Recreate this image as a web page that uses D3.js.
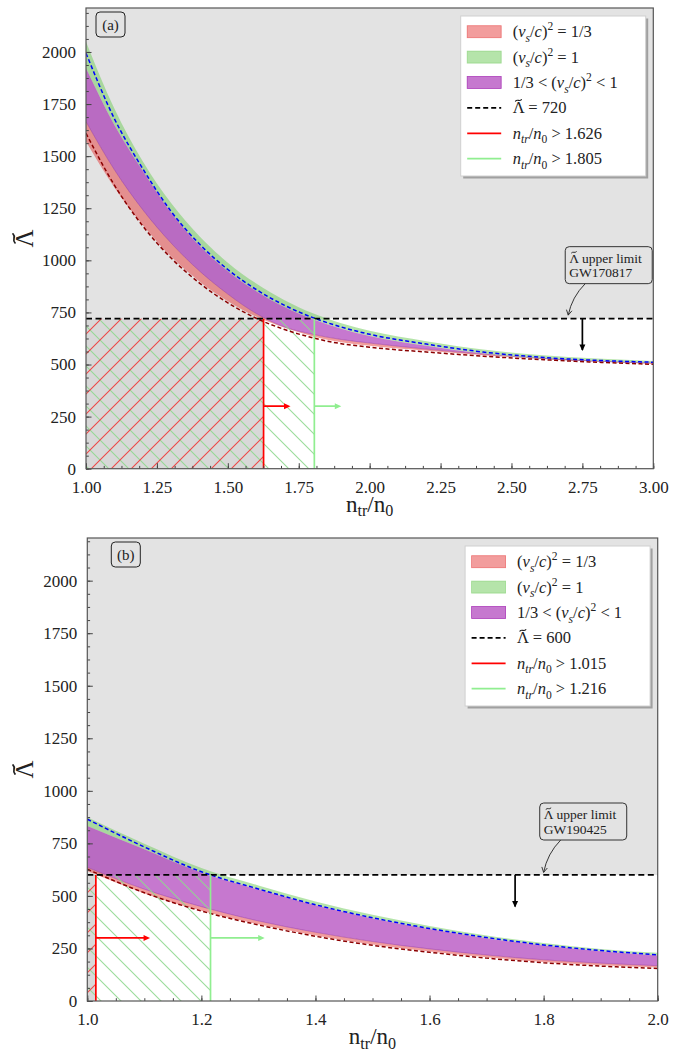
<!DOCTYPE html>
<html>
<head>
<meta charset="utf-8">
<title>Tidal deformability vs transition density</title>
<script src="https://cdn.jsdelivr.net/npm/d3@7"></script>
<style>
  body { margin: 0; background: #fff; }
  text { font-family: "Liberation Serif", "DejaVu Serif", serif; fill: #222; }
</style>
</head>
<body>
<script>
// ---------- panel (a): GW170817 ----------
var nA        = [1.0, 1.1, 1.2, 1.3, 1.4, 1.5, 1.6, 1.7, 1.8, 1.9, 2.0, 2.2, 2.4, 2.6, 2.8, 3.0];
var greenTopA = [2049, 1729, 1476, 1275, 1116, 989, 889, 809, 746, 698, 662, 612, 572, 546, 529, 517];
var blueA     = [1994, 1680, 1440, 1235, 1078, 956, 860, 784, 725, 680, 645, 598, 560, 535, 520, 511];
var purpTopA  = [1922, 1650, 1430, 1228, 1070, 948, 852, 776, 717, 672, 637, 590, 553, 529, 515, 507];
var purpBotA  = [1666, 1435, 1243, 1083, 949, 838, 745, 680, 645, 620, 603, 574, 550, 530, 516, 507];
var redDashA  = [1610, 1361, 1165, 1011, 891, 796, 722, 668, 628, 600, 583, 560, 540, 524, 511, 501];
var redBotA   = [1570, 1350, 1170, 1018, 899, 804, 730, 676, 635, 607, 590, 566, 545, 528, 514, 503];

// ---------- panel (b): GW190425 ----------
var nB        = [1.0, 1.1, 1.2, 1.3, 1.4, 1.5, 1.6, 1.7, 1.8, 1.9, 2.0];
var greenTopB = [874, 748, 633, 550, 474, 410, 357, 312, 276, 248, 229];
var blueB     = [865, 733, 615, 533, 458, 396, 345, 302, 267, 240, 220];
var purpTopB  = [833, 722, 610, 530, 455, 393, 342, 299, 264, 237, 217];
var purpBotB  = [636, 532, 449, 381, 327, 283, 248, 219, 196, 180, 168];
var redDashB  = [627, 515, 428, 362, 308, 265, 232, 204, 182, 166, 155];
var redBotB   = [618, 512, 430, 365, 312, 269, 236, 208, 186, 170, 159];

// limits and thresholds
var lambdaLimit = [720, 600];
var nRed        = [1.626, 1.015];
var nGreen      = [1.805, 1.216];
var eventNames  = ["GW170817", "GW190425"];
var panelTags   = ["(a)", "(b)"];
var limitArrowX = [2.75, 1.75];
var annotTip    = [[2.70, 737], [1.80, 612]];
var annotFrom   = [[2.76, 888], [1.83, 766]];

// ticks
var yTicks  = [0, 250, 500, 750, 1000, 1250, 1500, 1750, 2000];
var xTicksA = [1.00, 1.25, 1.50, 1.75, 2.00, 2.25, 2.50, 2.75, 3.00];
var xTicksB = [1.0, 1.2, 1.4, 1.6, 1.8, 2.0];

var C = {
  bg: "#e3e3e3", dark: "#d8d8d8",
  red: "rgba(230,60,60,0.5)", green: "rgba(120,205,100,0.55)", purple: "rgba(151,10,168,0.55)",
  redHatch: "#ec4848", greenHatch: "#8fd88f"
};

var svg = d3.select("body").append("svg").attr("width", 681).attr("height", 1053);
var defs = svg.append("defs");

function hatchPattern(id, color, back) {
  var p = defs.append("pattern").attr("id", id)
      .attr("patternUnits", "userSpaceOnUse").attr("width", 20).attr("height", 20);
  p.append("path")
      .attr("d", back ? "M-5,15L5,25M0,0L20,20M15,-5L25,5" : "M-5,5L5,-5M0,20L20,0M15,25L25,15")
      .attr("stroke", color).attr("stroke-width", 1.1).attr("fill", "none");
}
hatchPattern("hatchRed", C.redHatch, false);
hatchPattern("hatchGreen", C.greenHatch, true);

// rich text: parts = [{t, i, sub, sup, tilde}]; tildes are drawn over the marked letter
function rich(sel, parts, size, subShift) {
  var shift = 0, count = 0, marks = [];
  parts.forEach(function(p) {
    var target = p.sub ? size * (subShift || 0.28) : (p.sup ? -size * 0.42 : 0);
    var ts = sel.append("tspan").text(p.t).attr("dy", target - shift);
    shift = target;
    if (p.i) ts.attr("font-style", "italic");
    if (p.sub || p.sup) ts.attr("font-size", size * 0.7);
    if (p.tilde) marks.push(count);
    count += p.t.length;
  });
  var node = sel.node();
  marks.forEach(function(ci) {
    var r = node.getExtentOfChar(ci);
    var w = 0.36 * size, a = 0.04 * size;
    var x0 = r.x + r.width / 2 - w / 2, ty = r.y + 0.12 * size;
    d3.select(node.parentNode).append("path")
        .attr("d", "M" + x0 + "," + (ty + a) + "C" + (x0 + 0.35 * w) + "," + (ty - 2.4 * a) + " " +
              (x0 + 0.65 * w) + "," + (ty + 2.4 * a) + " " + (x0 + w) + "," + (ty - a))
        .attr("fill", "none").attr("stroke", "#222").attr("stroke-width", 0.07 * size)
        .attr("stroke-linecap", "round");
  });
  return sel;
}

var lamPart = {t: "Λ", tilde: 1};
var csPart = [{t: "("}, {t: "v", i: 1}, {t: "s", i: 1, sub: 1}, {t: "/"}, {t: "c", i: 1}, {t: ")"}, {t: "2", sup: 1}];
function ntrPart(v) {
  return [{t: "n", i: 1}, {t: "tr", i: 1, sub: 1}, {t: "/"}, {t: "n", i: 1}, {t: "0", sub: 1}, {t: " > " + v.toFixed(3)}];
}

function arrowHead(g, x1, y1, x2, y2, color, len, hw, open) {
  var a = Math.atan2(y2 - y1, x2 - x1);
  var bx = x2 - len * Math.cos(a), by = y2 - len * Math.sin(a);
  var px = -Math.sin(a) * hw, py = Math.cos(a) * hw;
  if (open) {
    g.append("path").attr("d", "M" + (bx + px) + "," + (by + py) + "L" + x2 + "," + y2 + "L" + (bx - px) + "," + (by - py))
        .attr("fill", "none").attr("stroke", color).attr("stroke-width", 0.9);
  } else {
    g.append("path").attr("d", "M" + x2 + "," + y2 + "L" + (bx + px) + "," + (by + py) + "L" + (bx - px) + "," + (by - py) + "Z")
        .attr("fill", color);
  }
}

function panel(k, cfg) {
  var x = d3.scaleLinear().domain(cfg.xDomain).range([cfg.left, cfg.right]);
  var y = d3.scaleLinear().domain([0, cfg.yMax]).range([cfg.bottom, cfg.top]);
  var lam = lambdaLimit[k], nr = nRed[k], ng = nGreen[k];
  var g = svg.append("g");
  var cid = "clip" + k;
  defs.append("clipPath").attr("id", cid).append("rect")
      .attr("x", cfg.left).attr("y", cfg.top)
      .attr("width", cfg.right - cfg.left).attr("height", cfg.bottom - cfg.top);
  var plot = g.append("g").attr("clip-path", "url(#" + cid + ")");

  // excluded / allowed regions
  plot.append("rect").attr("x", cfg.left).attr("y", cfg.top)
      .attr("width", cfg.right - cfg.left).attr("height", cfg.bottom - cfg.top).attr("fill", C.bg);
  plot.append("rect").attr("x", x(cfg.xDomain[0])).attr("y", y(lam))
      .attr("width", x(cfg.xDomain[1]) - x(cfg.xDomain[0])).attr("height", y(0) - y(lam)).attr("fill", "#fff");
  plot.append("rect").attr("x", x(cfg.xDomain[0])).attr("y", y(lam))
      .attr("width", x(nr) - x(cfg.xDomain[0])).attr("height", y(0) - y(lam)).attr("fill", C.dark);

  // bands
  var idx = d3.range(cfg.n.length);
  function band(lo, hi, fill) {
    var area = d3.area().x(function(i) { return x(cfg.n[i]); })
        .y0(function(i) { return y(lo[i]); }).y1(function(i) { return y(hi[i]); })
        .curve(d3.curveMonotoneX);
    plot.append("path").datum(idx).attr("d", area).attr("fill", fill);
  }
  band(cfg.redBot, cfg.purpBot, C.red);
  band(cfg.purpTop, cfg.greenTop, C.green);
  band(cfg.purpBot, cfg.purpTop, C.purple);
  var edge = d3.line().x(function(i) { return x(cfg.n[i]); }).curve(d3.curveMonotoneX);
  plot.append("path").datum(idx).attr("d", edge.y(function(i) { return y(cfg.purpBot[i]); }))
      .attr("fill", "none").attr("stroke", "rgba(140,40,150,0.5)").attr("stroke-width", 0.8);

  // hatches
  plot.append("rect").attr("x", x(cfg.xDomain[0])).attr("y", y(lam))
      .attr("width", x(ng) - x(cfg.xDomain[0])).attr("height", y(0) - y(lam))
      .attr("fill", "url(#hatchGreen)").attr("opacity", 0.9);
  plot.append("rect").attr("x", x(cfg.xDomain[0])).attr("y", y(lam))
      .attr("width", x(nr) - x(cfg.xDomain[0])).attr("height", y(0) - y(lam))
      .attr("fill", "url(#hatchRed)");

  // dashed model curves
  plot.append("path").datum(idx).attr("d", edge.y(function(i) { return y(cfg.redDash[i]); }))
      .attr("fill", "none").attr("stroke", "#8b0000").attr("stroke-width", 1.5).attr("stroke-dasharray", "4,2.5");
  plot.append("path").datum(idx).attr("d", edge.y(function(i) { return y(cfg.blue[i]); }))
      .attr("fill", "none").attr("stroke", "#0000ff").attr("stroke-width", 1.5).attr("stroke-dasharray", "4,2.5");

  // limit line
  plot.append("line").attr("x1", cfg.left).attr("x2", cfg.right).attr("y1", y(lam)).attr("y2", y(lam))
      .attr("stroke", "#000").attr("stroke-width", 1.8).attr("stroke-dasharray", "6,3.5");

  // vertical thresholds with arrows
  [[nr, "#ff0000"], [ng, "#90ee90"]].forEach(function(d) {
    plot.append("line").attr("x1", x(d[0])).attr("x2", x(d[0])).attr("y1", y(0)).attr("y2", y(lam))
        .attr("stroke", d[1]).attr("stroke-width", 1.7);
    var x2 = x(d[0] + 0.095), yy = y(300);
    plot.append("line").attr("x1", x(d[0])).attr("x2", x2 - 4).attr("y1", yy).attr("y2", yy)
        .attr("stroke", d[1]).attr("stroke-width", 1.7);
    arrowHead(plot, x(d[0]), yy, x2, yy, d[1], 6.5, 3, false);
  });

  // downward limit arrow
  var ax = x(limitArrowX[k]);
  plot.append("line").attr("x1", ax).attr("x2", ax).attr("y1", y(lam)).attr("y2", y(lam - 150))
      .attr("stroke", "#000").attr("stroke-width", 1.7);
  arrowHead(plot, ax, y(lam), ax, y(lam - 155), "#000", 6.5, 3, false);

  // annotation
  var sx = x(annotFrom[k][0]), sy = y(annotFrom[k][1]);
  var tx = x(annotTip[k][0]), ty = y(annotTip[k][1]);
  var cx = (sx + tx) / 2 - 0.15 * (ty - sy), cy = (sy + ty) / 2 + 0.15 * (tx - sx);
  g.append("path").attr("d", "M" + sx + "," + sy + "Q" + cx + "," + cy + " " + tx + "," + ty)
      .attr("fill", "none").attr("stroke", "#222").attr("stroke-width", 0.9);
  arrowHead(g, cx, cy, tx, ty, "#222", 5, 2.8, true);
  var bx = sx - cfg.boxDx, by = sy - 37;
  g.append("rect").attr("x", bx).attr("y", by).attr("width", 87).attr("height", 37).attr("rx", 4)
      .attr("fill", "none").attr("stroke", "#333").attr("stroke-width", 1);
  rich(g.append("text").attr("x", bx + 4).attr("y", by + 16).attr("font-size", 13.5),
      [lamPart, {t: " upper limit"}], 13.5);
  g.append("text").attr("x", bx + 4).attr("y", by + 30.5).attr("font-size", 13.5).text(eventNames[k]);

  // panel tag
  g.append("rect").attr("x", cfg.left + cfg.tagDx).attr("y", cfg.top + 4).attr("width", 29).attr("height", 25)
      .attr("rx", 4).attr("fill", "none").attr("stroke", "#222").attr("stroke-width", 1);
  g.append("text").attr("x", cfg.left + cfg.tagDx + 14.5).attr("y", cfg.top + 21.5).attr("text-anchor", "middle")
      .attr("font-size", 15).text(panelTags[k]);

  // axes
  var yMinor = d3.range(0, cfg.yMax, 62.5);
  var xMinor = d3.range(cfg.xDomain[0], cfg.xDomain[1] + 1e-9, cfg.xMinorStep);
  g.append("g").attr("transform", "translate(" + cfg.left + ",0)")
      .call(d3.axisLeft(y).tickValues(yMinor).tickSize(-2.8).tickFormat(""));
  g.append("g").attr("transform", "translate(0," + cfg.bottom + ")")
      .call(d3.axisBottom(x).tickValues(xMinor).tickSize(-2.8).tickFormat(""));
  g.append("g").attr("class", "lab").attr("transform", "translate(" + cfg.left + ",0)")
      .call(d3.axisLeft(y).tickValues(yTicks).tickSize(-5.5).tickPadding(10).tickFormat(d3.format("d")));
  g.append("g").attr("class", "lab").attr("transform", "translate(0," + cfg.bottom + ")")
      .call(d3.axisBottom(x).tickValues(cfg.xTicks).tickSize(-5.5).tickPadding(12).tickFormat(d3.format(cfg.xFmt)));
  g.selectAll(".domain").remove();
  g.selectAll(".tick line").attr("stroke", "#444");
  g.selectAll(".lab text").attr("font-size", 17).attr("font-family", "Liberation Serif").attr("fill", "#222");

  // frame
  g.append("rect").attr("x", cfg.left).attr("y", cfg.top)
      .attr("width", cfg.right - cfg.left).attr("height", cfg.bottom - cfg.top)
      .attr("fill", "none").attr("stroke", "#555").attr("stroke-width", 1.2);

  // axis labels
  rich(g.append("text").attr("x", (cfg.left + cfg.right) / 2).attr("y", cfg.bottom + 43)
      .attr("text-anchor", "middle").attr("font-size", 23),
      [{t: "n"}, {t: "tr", sub: 1}, {t: "/n"}, {t: "0", sub: 1}], 23, 0.2);
  var yl = g.append("g").attr("transform", "translate(33," + ((cfg.top + cfg.bottom) / 2) + ") rotate(-90)");
  rich(yl.append("text").attr("text-anchor", "middle").attr("font-size", 25), [lamPart], 25);

  // legend
  var lx = cfg.right - 7.6 - 185, ly = cfg.top + 8;
  var L = g.append("g");
  L.append("rect").attr("x", lx + 2.5).attr("y", ly + 2.5).attr("width", 185).attr("height", 160).attr("fill", "#a0a0a0");
  L.append("rect").attr("x", lx).attr("y", ly).attr("width", 185).attr("height", 160)
      .attr("fill", "#fff").attr("stroke", "#d0d0d0").attr("stroke-width", 1);
  var entries = [
    {kind: "patch", fill: C.red, stroke: "rgba(230,60,60,0.6)", label: csPart.concat([{t: " = 1/3"}])},
    {kind: "patch", fill: C.green, stroke: "rgba(120,205,100,0.6)", label: csPart.concat([{t: " = 1"}])},
    {kind: "patch", fill: C.purple, stroke: "rgba(151,10,168,0.7)", label: [{t: "1/3 < "}].concat(csPart, [{t: " < 1"}])},
    {kind: "line", color: "#000", dash: "5,3", label: [lamPart, {t: " = " + lam}]},
    {kind: "line", color: "#ff0000", label: ntrPart(nr)},
    {kind: "line", color: "#90ee90", label: ntrPart(ng)}
  ];
  entries.forEach(function(e, i) {
    var ry = ly + 15.7 + i * 25.4;
    if (e.kind === "patch") {
      L.append("rect").attr("x", lx + 6.5).attr("y", ry - 6).attr("width", 34).attr("height", 12)
          .attr("fill", e.fill).attr("stroke", e.stroke).attr("stroke-width", 0.8);
    } else {
      L.append("line").attr("x1", lx + 6.5).attr("x2", lx + 40.5).attr("y1", ry).attr("y2", ry)
          .attr("stroke", e.color).attr("stroke-width", 1.7).attr("stroke-dasharray", e.dash || null);
    }
    rich(L.append("text").attr("x", lx + 52).attr("y", ry + 5.5).attr("font-size", 16.5), e.label, 16.5);
  });
}

panel(0, {
  n: nA, greenTop: greenTopA, blue: blueA, purpTop: purpTopA, purpBot: purpBotA, redDash: redDashA, redBot: redBotA,
  xDomain: [1, 3], yMax: 2211, left: 86, right: 653.3, top: 8, bottom: 468.7,
  xTicks: xTicksA, xFmt: ".2f", xMinorStep: 0.0625, tagDx: 10, boxDx: 20
});
panel(1, {
  n: nB, greenTop: greenTopB, blue: blueB, purpTop: purpTopB, purpBot: purpBotB, redDash: redDashB, redBot: redBotB,
  xDomain: [1, 2], yMax: 2203, left: 87.3, right: 657.7, top: 538, bottom: 1001,
  xTicks: xTicksB, xFmt: ".1f", xMinorStep: 0.05, tagDx: 24, boxDx: 21
});
</script>
</body>
</html>
